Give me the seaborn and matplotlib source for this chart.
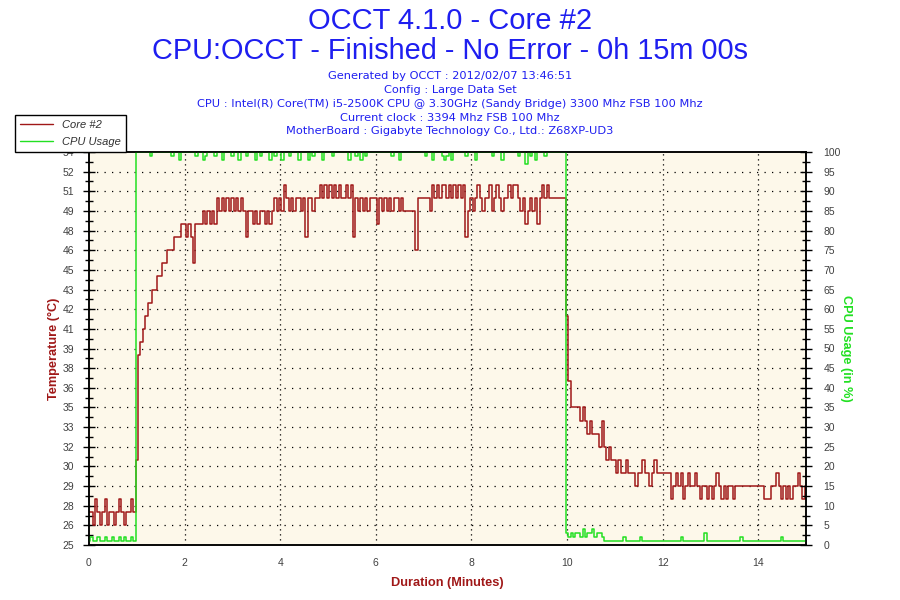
import numpy as np
import pandas as pd
import matplotlib
matplotlib.use("Agg")
import matplotlib.pyplot as plt
import seaborn as sns
from matplotlib.ticker import FixedLocator, MultipleLocator
from matplotlib.lines import Line2D

# ---------------- data ----------------
title_main = "OCCT 4.1.0 - Core #2"
title_sub = "CPU:OCCT - Finished - No Error - 0h 15m 00s"
info_lines = [
    "Generated by OCCT : 2012/02/07 13:46:51",
    "Config : Large Data Set",
    "CPU : Intel(R) Core(TM) i5-2500K CPU @ 3.30GHz (Sandy Bridge) 3300 Mhz FSB 100 Mhz",
    "Current clock : 3394 Mhz FSB 100 Mhz",
    "MotherBoard : Gigabyte Technology Co., Ltd.: Z68XP-UD3",
]

# sample times (minutes), one sample every 0.05 min
minutes = np.round(np.arange(301) * 0.05, 2)

temp_core2 = (
    [27,27,26,28,27,26,27,28,26,27,27,26,27,28,27,26,27,27,28,27]
    + [31,39,40,41,42,43,43,44,44,45,45,46,46,47,47,47,48,48,48,49]
    + [49,48,49,48,46,49,49,49,50,49,50,49,50,49,51,50,51,50,51,50]
    + [51,50,51,50,51,50,48,50,50,49,50,49,50,50,49,50,49,50,51,50]
    + [51,50,52,51,50,51,50,51,51,50,51,48,51,51,50,51,51,52,51,52]
    + [51,52,51,52,51,52,51,51,52,51,52,48,51,50,51,50,51,50,51,51]
    + [51,49,51,50,51,50,51,50,51,51,50,51,50,50,50,50,50,47,51,51]
    + [51,51,51,50,52,51,52,51,52,52,51,52,51,52,51,52,51,52,48,50]
    + [51,50,51,52,51,50,51,51,52,50,51,52,51,50,51,51,52,51,52,52]
    + [51,50,51,49,50,51,50,51,49,51,52,51,52,51,51,51,51,51,51,51]
    + [42,37,35,35,35,35,34,35,34,33,34,33,33,33,32,34,32,31,32,31]
    + [31,30,31,30,30,31,30,30,30,29,30,30,31,30,30,29,30,31,30,30]
    + [30,30,30,30,28,29,30,29,30,28,29,30,29,29,30,29,28,29,29,28]
    + [29,28,29,30,29,28,29,28,29,29,28,29,29,29,29,29,29,29,29,29]
    + [29,29,29,28,28,28,29,29,30,29,28,29,28,29,28,29,29,30,29,28]
    + [29]
)

cpu_usage = (
    [1,2,1,1,2,1,1,2,1,1,2,1,1,2,1,2,1,1,2,1]
    + [100,100,100,100,100,100,99,100,100,100,100,100,100,100,100,99,100,100,98,100]
    + [100,100,100,100,100,99,100,100,98,99,100,100,100,99,100,100,98,100,100,100]
    + [99,100,100,98,100,100,99,100,100,100,98,100,99,100,100,100,98,100,99,100]
    + [100,98,100,100,99,100,100,100,98,100,100,100,98,100,99,100,100,100,98,100]
    + [100,100,99,100,100,100,100,100,100,98,100,100,99,100,98,100,99,100,100,100]
    + [100,100,100,100,100,100,100,99,100,100,98,100,100,100,100,100,100,100,100,100]
    + [100,99,100,100,98,100,100,100,99,98,99,100,98,100,100,100,100,100,99,100]
    + [100,100,98,100,100,100,100,100,100,99,100,100,100,98,100,100,100,100,100,100]
    + [99,100,100,97,100,99,100,98,100,100,100,99,100,100,100,100,100,100,100,100]
    + [3,2,3,2,3,3,2,4,2,3,3,4,2,3,3,2,1,1,1,1]
    + [1,1,1,1,2,1,1,1,1,1,1,2,1,1,1,1,1,1,1,1]
    + [1,1,1,1,1,1,1,1,2,1,1,1,1,1,1,1,1,1,3,1]
    + [1,1,1,1,1,1,1,1,1,1,1,1,1,2,1,1,1,1,1,1]
    + [1,1,1,1,1,1,1,1,1,1,2,1,1,1,1,1,1,1,1,1]
    + [1]
)

temp_tick_labels = ["25","26","28","29","30","32","33","35","36","38","39",
                    "41","42","43","45","46","48","49","51","52","54"]
cpu_ticks = list(range(0, 101, 5))
x_ticks = [0, 2, 4, 6, 8, 10, 12, 14]

df = pd.DataFrame({"minutes": minutes, "temp": temp_core2, "cpu": cpu_usage})

# ---------------- style ----------------
RED = "#A01818"
GREEN = "#22E022"
BLUE = "#1E1EF0"
BG = "#FDF8EA"
TICKC = "#404040"

sns.set_style("white")
plt.rcParams["font.family"] = ["Liberation Sans", "DejaVu Sans"]

fig = plt.figure(figsize=(9, 6), dpi=100)
fig.patch.set_facecolor("white")
ax = fig.add_axes([89/900, 55/600, (806-89)/900, (545-152)/600])
ax.set_facecolor(BG)

sns.lineplot(data=df, x="minutes", y="temp", ax=ax, color=RED, lw=1.1,
             estimator=None, legend=False, drawstyle="steps-mid")

ax.set_xlim(0, 15)
ax.set_ylim(24.5, 54.5)
yt = np.linspace(24.5, 54.5, 21)
ax.yaxis.set_major_locator(FixedLocator(yt))
ax.set_yticklabels(temp_tick_labels)
ax.yaxis.set_minor_locator(FixedLocator((yt[:-1] + yt[1:]) / 2))
ax.set_xticks(x_ticks)
ax.set_xticklabels([str(v) for v in x_ticks])
ax.xaxis.set_minor_locator(MultipleLocator(0.5))

ax.tick_params(axis="both", which="major", direction="inout", length=9,
               width=1, color="black", labelsize=7.5, labelcolor=TICKC)
ax.tick_params(axis="both", which="minor", direction="inout", length=6,
               width=1, color="black")
ax.tick_params(axis="y", pad=6)
ax.tick_params(axis="x", pad=5)

for sp in ax.spines.values():
    sp.set_color("black")
    sp.set_linewidth(1.1)

# dotted grid
for y in yt[1:-1]:
    ax.axhline(y, color="black", lw=0.9, ls=(0, (1, 5)), zorder=1)
for x in x_ticks[1:]:
    ax.axvline(x, color="black", lw=0.9, ls=(0, (1, 3)), zorder=1)

ax.set_xlabel("Duration (Minutes)", color=RED, fontsize=9.2,
              fontweight="bold", labelpad=6)
ax.set_ylabel("Temperature (°C)", color=RED, fontsize=9.2,
              fontweight="bold", labelpad=2)

ax2 = ax.twinx()
sns.lineplot(data=df, x="minutes", y="cpu", ax=ax2, color=GREEN, lw=1.1,
             estimator=None, legend=False, drawstyle="steps-mid")
ax2.set_ylim(0, 100)
ax2.set_yticks(cpu_ticks)
ax2.set_yticklabels([str(v) for v in cpu_ticks])
ax2.yaxis.set_minor_locator(MultipleLocator(2.5))
ax2.tick_params(axis="y", which="major", direction="inout", length=9, width=1,
                color="black", labelsize=7.5, labelcolor=TICKC, pad=8)
ax2.tick_params(axis="y", which="minor", direction="inout", length=6, width=1,
                color="black")
ax2.set_ylabel("CPU Usage (in %)", color=GREEN, fontsize=9.2,
               fontweight="bold", rotation=-90, labelpad=8)
for sp in ax2.spines.values():
    sp.set_color("black")
    sp.set_linewidth(1.1)

# titles
fig.text(0.5, 1 - 21/600, title_main, ha="center", va="center",
         fontsize=21, color=BLUE)
fig.text(0.5, 1 - 51/600, title_sub, ha="center", va="center",
         fontsize=20.8, color=BLUE)
for line, ypx in zip(info_lines, [76, 90, 104, 118, 131]):
    fig.text(0.5, 1 - ypx/600, line, ha="center", va="center",
             fontsize=8.2, color=BLUE, family=["DejaVu Sans"])

# legend
handles = [Line2D([], [], color=RED, lw=1), Line2D([], [], color=GREEN, lw=1)]
leg = fig.legend(handles, ["Core #2", "CPU Usage"], loc="upper left",
                 bbox_to_anchor=(15/900, 1 - 115/600), frameon=True,
                 fancybox=False, edgecolor="black", framealpha=1,
                 prop={"size": 8, "style": "italic"}, handlelength=3.0,
                 borderpad=0.45, labelspacing=0.6, handletextpad=0.8,
                 borderaxespad=0)
leg.get_frame().set_linewidth(1.0)
for t in leg.get_texts():
    t.set_color("#303030")
leg.set_zorder(10)

fig.savefig("out.png", dpi=100)
